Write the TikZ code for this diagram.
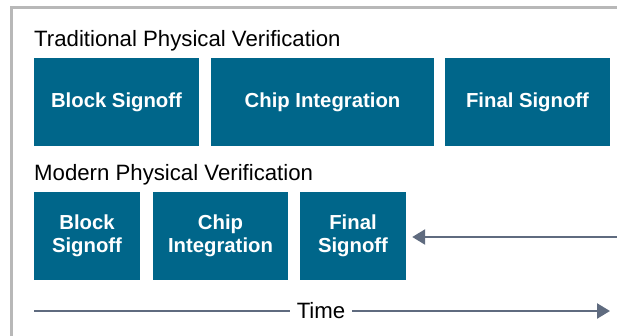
\documentclass[tikz,border=0pt]{standalone}
\usepackage{fontspec}
\setmainfont{Liberation Sans}
\usepackage{xcolor}
\usetikzlibrary{arrows.meta}

\definecolor{stepblue}{HTML}{00668A}
\definecolor{timegray}{HTML}{5F6B7F}
\definecolor{framegray}{HTML}{B8B8B8}

\tikzset{
    phase/.style = {fill = stepblue, text = white, inner sep = 0pt,
        minimum height = 88pt, align = center,
        font = \fontsize{20.3}{23}\selectfont\bfseries},
    heading/.style = {anchor = base west, inner sep = 0pt,
        font = \fontsize{22.2}{26}\selectfont},
    timeline/.style = {draw = timegray, line width = 2.5pt,
        -{Triangle[length = 13pt, width = 15pt]}}
}

\begin{document}
\begin{tikzpicture}[x = 1pt, y = -1pt]
        \useasboundingbox (0, 0) rectangle (617, 335);
        \draw[framegray, line width = 3pt] (11.5, 340) -- (11.5, 7.5) -- (622, 7.5);

        % traditional flow
        \node[heading] (tradtitle) at (34, 46) {Traditional Physical Verification};
        \node[phase, minimum width = 165pt] (tradblock) at (116.5, 102) {Block Signoff};
        \node[phase, minimum width = 223pt] (tradchip) at (322.5, 102) {Chip Integration};
        \node[phase, minimum width = 165pt] (tradfinal) at (527.5, 102) {Final Signoff};

        % modern flow
        \node[heading] (modtitle) at (34, 180) {Modern Physical Verification};
        \node[phase, minimum width = 106pt] (modblock) at (87, 236) {Block\\Signoff};
        \node[phase, minimum width = 135pt] (modchip) at (220.5, 236) {Chip\\Integration};
        \node[phase, minimum width = 106pt] (modfinal) at (353, 236) {Final\\Signoff};

        \coordinate (shiftstart) at (618, 237);
        \draw[timeline] (shiftstart) -- ([xshift = 6pt]modfinal.east |- shiftstart);

        % time axis
        \coordinate (timestart) at (34, 311);
        \coordinate (timeend) at (610, 311);
        \node[font = \fontsize{22.2}{26}\selectfont, inner sep = 7pt] (time) at (321, 311) {Time};
        \draw[timeline, -] (timestart) -- (time.west);
        \draw[timeline] (time.east) -- (timeend);
    \end{tikzpicture}
\end{document}
